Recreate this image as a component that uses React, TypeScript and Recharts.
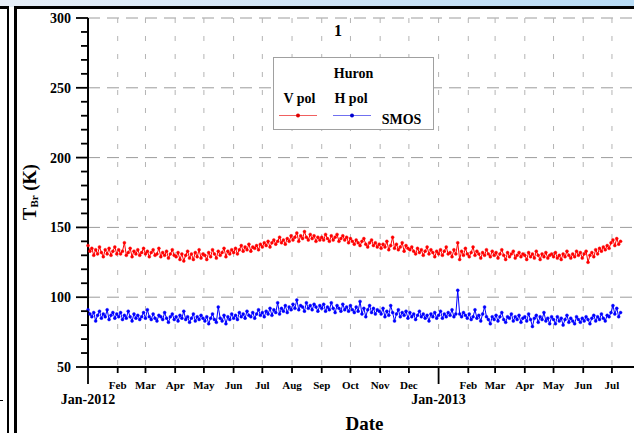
import React from 'react';
import { LineChart, Line, XAxis, YAxis, CartesianGrid, Legend } from 'recharts';

// Observations every 2 days starting 2012-01-01 (x = days since 2012-01-01)
const startDate = '2012-01-01';
const stepDays = 2;

// SMOS brightness temperature, V polarisation (K)
const vPol = [
  // Jan 2012
  137, 133, 135, 130, 134, 131, 136, 132, 129, 134, 131, 135, 130, 133, 136, 131,
  // Feb
  134, 131, 133, 139, 130, 132, 135, 129, 133, 131, 134, 130, 132, 135,
  // Mar
  131, 133, 129, 132, 134, 130, 131, 135, 129, 132, 130, 133, 128, 131, 134, 130,
  // Apr
  129, 132, 127, 131, 126, 130, 133, 128, 131, 127, 132, 129, 134, 128, 131,
  // May
  130, 127, 132, 129, 134, 131, 128, 133, 130, 132, 135, 129, 133, 131, 134,
  // Jun
  132, 135, 131, 134, 137, 133, 136, 134, 138, 133, 136, 135, 137, 134, 138,
  // Jul
  136, 139, 137, 140, 136, 139, 141, 138, 140, 143, 139, 141, 138, 142, 140, 144,
  // Aug
  141, 143, 146, 140, 144, 142, 147, 143, 141, 145, 142, 144, 140, 143, 141,
  // Sep
  143, 141, 145, 142, 140, 144, 141, 143, 145, 140, 142, 144, 141, 143, 139,
  // Oct
  142, 140, 138, 141, 139, 137, 140, 142, 138, 136, 139, 141, 137, 139, 136, 138,
  // Nov
  135, 138, 136, 140, 134, 137, 143, 135, 138, 134, 136, 139, 133, 137, 135,
  // Dec
  134, 136, 133, 131, 135, 132, 134, 130, 133, 136, 131, 134, 132, 129, 133,
  // Jan 2013
  131, 134, 130, 133, 136, 131, 132, 129, 134, 131, 139, 127, 133, 130, 135, 131,
  // Feb
  129, 132, 136, 130, 133, 131, 128, 132, 130, 134, 131, 129, 133, 130,
  // Mar
  132, 128, 131, 134, 130, 127, 132, 129, 131, 133, 128, 130, 132, 129, 131,
  // Apr
  130, 127, 132, 129, 131, 128, 133, 130, 127, 131, 129, 132, 128, 130, 131,
  // May
  129, 132, 128, 130, 127, 131, 129, 133, 130, 128, 131, 129, 133, 130, 132, 128,
  // Jun
  131, 133, 125, 130, 132, 129, 134, 131, 135, 133, 136, 134, 137, 135, 139,
  // Jul
  141, 137, 142, 138, 140,
];

// SMOS brightness temperature, H polarisation (K)
const hPol = [
  // Jan 2012
  91, 88, 86, 89, 83, 87, 90, 85, 88, 86, 91, 84, 87, 89, 85, 88,
  // Feb
  86, 89, 84, 87, 85, 90, 86, 83, 88, 85, 87, 84, 86, 89,
  // Mar
  85, 91, 86, 84, 88, 85, 83, 87, 86, 84, 89, 85, 82, 86, 88, 84,
  // Apr
  86, 83, 87, 85, 90, 84, 86, 82, 85, 88, 83, 86, 84, 87, 85,
  // May
  83, 86, 81, 85, 88, 84, 82, 93, 85, 83, 87, 81, 86, 84, 88,
  // Jun
  85, 87, 84, 89, 86, 88, 85, 90, 87, 86, 89, 85, 88, 91, 87,
  // Jul
  89, 86, 90, 88, 92, 87, 91, 89, 96, 88, 92, 90, 94, 89, 93, 91,
  // Aug
  95, 92, 98, 91, 94, 93, 90, 96, 92, 94, 91, 95, 93, 90, 94,
  // Sep
  92, 95, 90, 93, 91, 96, 92, 89, 94, 92, 90, 95, 91, 93, 90,
  // Oct
  94, 91, 89, 93, 90, 97, 88, 92, 86, 91, 94, 89, 92, 88, 91, 90,
  // Nov
  88, 92, 86, 90, 87, 94, 89, 83, 88, 91, 86, 89, 87, 90, 85,
  // Dec
  89, 86, 88, 84, 87, 90, 86, 88, 85, 87, 83, 88, 86, 89, 85,
  // Jan 2013
  87, 90, 85, 88, 86, 89, 87, 91, 86, 88, 105, 88, 86, 89, 87, 85,
  // Feb
  88, 84, 86, 91, 85, 87, 83, 88, 93, 86, 84, 81, 86, 84,
  // Mar
  87, 83, 86, 89, 84, 82, 86, 85, 88, 83, 86, 84, 87, 82, 85,
  // Apr
  86, 83, 88, 84, 79, 85, 87, 82, 86, 84, 89, 83, 85, 81, 86,
  // May
  84, 81, 86, 83, 85, 80, 84, 87, 82, 85, 83, 81, 86, 84, 82, 85,
  // Jun
  83, 86, 84, 81, 85, 87, 83, 86, 84, 88, 85, 83, 87, 86, 89,
  // Jul
  94, 88, 92, 86, 89,
];

// Month-start positions (days since 2012-01-01) and their labels
const monthTickDays = [0, 31, 60, 91, 121, 152, 182, 213, 244, 274, 305, 335, 366, 397, 425, 456, 486, 517, 547];
const monthTickLabels = [
  'Jan-2012', 'Feb', 'Mar', 'Apr', 'May', 'Jun', 'Jul', 'Aug', 'Sep', 'Oct', 'Nov', 'Dec',
  'Jan-2013', 'Feb', 'Mar', 'Apr', 'May', 'Jun', 'Jul',
];
const monthGridDays = [31, 60, 91, 121, 152, 182, 213, 244, 274, 305, 335, 366, 397, 425, 456, 486, 517, 547];

const yTicks = [50, 60, 70, 80, 90, 100, 110, 120, 130, 140, 150, 160, 170, 180, 190, 200, 210, 220, 230, 240, 250, 260, 270, 280, 290, 300];
const yMajorTicks = [50, 100, 150, 200, 250, 300];
const yGridValues = [100, 150, 200, 250, 300];

const seriesNames = { v: 'V pol', h: 'H pol' };
const legendTitle = 'Huron';
const legendSource = 'SMOS';
const panelTitle = '1';

const RED = '#ff0000';
const BLUE = '#0000ff';
const FONT = '"Liberation Serif", "Times New Roman", serif';

const data = vPol.map((v, i) => ({ day: i * stepDays, v, h: hPol[i] }));

const XTick = (props: any) => {
  const { x, y, payload } = props;
  const idx = monthTickDays.indexOf(payload.value);
  const label = monthTickLabels[idx] ?? '';
  const isJan = label.startsWith('Jan');
  return (
    <g>
      <line x1={x} x2={x} y1={y} y2={y + (isJan ? 17 : 6)} stroke="#000" strokeWidth={1.8} />
      <text
        x={x}
        y={isJan ? y + 37 : y + 22}
        textAnchor="middle"
        fontFamily={FONT}
        fontWeight="bold"
        fontSize={isJan ? 14 : 11}
        fill="#000"
      >
        {label}
      </text>
    </g>
  );
};

const YTick = (props: any) => {
  const { x, y, payload } = props;
  const major = yMajorTicks.includes(payload.value);
  return (
    <g>
      <line x1={x - (major ? 12 : 7)} x2={x} y1={y} y2={y} stroke="#000" strokeWidth={1.8} />
      {major && (
        <text
          x={x - 17}
          y={y + 5}
          textAnchor="end"
          fontFamily={FONT}
          fontWeight="bold"
          fontSize={14}
          fill="#000"
        >
          {payload.value}
        </text>
      )}
    </g>
  );
};

const YLabel = () => (
  <text
    transform="translate(36,192) rotate(-90)"
    textAnchor="middle"
    fontFamily={FONT}
    fontWeight="bold"
    fontSize={18.5}
    fill="#000"
  >
    T
    <tspan fontSize={11} dy={2}>Br</tspan>
    <tspan dy={-2}> (K)</tspan>
  </text>
);

const XLabel = () => (
  <text x={364.5} y={430} textAnchor="middle" fontFamily={FONT} fontWeight="bold" fontSize={19} fill="#000">
    Date
  </text>
);

const LegendBox = () => (
  <div
    style={{
      width: 161,
      height: 73,
      boxSizing: 'border-box',
      border: '1px solid #a0a0a0',
      background: '#fff',
    }}
  >
    <svg width={159} height={71} style={{ display: 'block' }}>
      <g transform="translate(-1,-1)" fontFamily={FONT} fontWeight="bold" fill="#000">
        <text x={80.5} y={21} textAnchor="middle" fontSize={14}>{legendTitle}</text>
        <text x={26.5} y={45.5} textAnchor="middle" fontSize={14}>{seriesNames.v}</text>
        <text x={78} y={45.5} textAnchor="middle" fontSize={14}>{seriesNames.h}</text>
        <line x1={6} x2={44} y1={58.5} y2={58.5} stroke="#f06060" strokeWidth={1.2} />
        <circle cx={25} cy={58.5} r={2} fill="#e00000" />
        <line x1={60} x2={98} y1={58.5} y2={58.5} stroke="#7070f0" strokeWidth={1.2} />
        <circle cx={79} cy={58.5} r={2} fill="#0000d0" />
        <text x={128.5} y={67} textAnchor="middle" fontSize={14}>{legendSource}</text>
      </g>
    </svg>
  </div>
);

export default function App() {
  return (
    <div
      style={{
        position: 'absolute',
        left: 0,
        top: 0,
        width: 634,
        height: 433,
        overflow: 'hidden',
        background: '#fff',
      }}
    >
      {/* window frame decorations */}
      <div style={{ position: 'absolute', left: 0, top: 0, width: 634, height: 7, background: 'linear-gradient(to right, #e6eef8, #cfe4f6 50%, #b8dcf6)' }} />
      <div style={{ position: 'absolute', left: 0, top: 6, width: 9, height: 3, background: '#000' }} />
      <div style={{ position: 'absolute', left: 14, top: 6, width: 620, height: 3, background: '#000' }} />
      <div style={{ position: 'absolute', left: 7, top: 6, width: 2, height: 427, background: '#000' }} />
      <div style={{ position: 'absolute', left: 14, top: 6, width: 3, height: 427, background: '#000' }} />
      <div style={{ position: 'absolute', left: 0, top: 400, width: 3, height: 1, background: '#000' }} />

      <div
        style={{
          position: 'absolute',
          left: 330,
          top: 22,
          width: 16,
          textAlign: 'center',
          fontFamily: FONT,
          fontWeight: 'bold',
          fontSize: 16,
          lineHeight: '18px',
          color: '#000',
        }}
      >
        {panelTitle}
      </div>

      <div style={{ position: 'absolute', left: 0, top: 0 }}>
        <LineChart width={634} height={433} data={data} margin={{ top: 18, right: 0, left: 28, bottom: 36 }}>
          <CartesianGrid
            vertical={false}
            horizontalValues={yGridValues}
            stroke="#9c9c9c"
            strokeDasharray="12 7"
          />
          <CartesianGrid
            horizontal={false}
            verticalValues={monthGridDays}
            stroke="#b4b4b4"
            strokeDasharray="5 13"
          />
          <XAxis
            dataKey="day"
            type="number"
            domain={[0, 570]}
            ticks={monthTickDays}
            interval={0}
            tickSize={0}
            tickMargin={0}
            tickLine={false}
            axisLine={{ stroke: '#000', strokeWidth: 2 }}
            tick={<XTick />}
            height={30}
            label={<XLabel />}
          />
          <YAxis
            type="number"
            domain={[50, 300]}
            ticks={yTicks}
            interval={0}
            tickSize={0}
            tickMargin={0}
            tickLine={false}
            axisLine={{ stroke: '#000', strokeWidth: 2 }}
            tick={<YTick />}
            width={60}
            label={<YLabel />}
          />
          <Legend
            layout="horizontal"
            verticalAlign="middle"
            align="center"
            content={<LegendBox />}
            wrapperStyle={{ position: 'absolute', left: 273, top: 57, width: 161, height: 73 }}
          />
          <Line
            dataKey="v"
            name={seriesNames.v}
            stroke={RED}
            strokeWidth={1}
            dot={{ r: 1.5, fill: RED, stroke: RED, strokeWidth: 0.4 }}
            activeDot={false}
            isAnimationActive={false}
          />
          <Line
            dataKey="h"
            name={seriesNames.h}
            stroke={BLUE}
            strokeWidth={1}
            dot={{ r: 1.5, fill: BLUE, stroke: BLUE, strokeWidth: 0.4 }}
            activeDot={false}
            isAnimationActive={false}
          />
        </LineChart>
      </div>
    </div>
  );
}
